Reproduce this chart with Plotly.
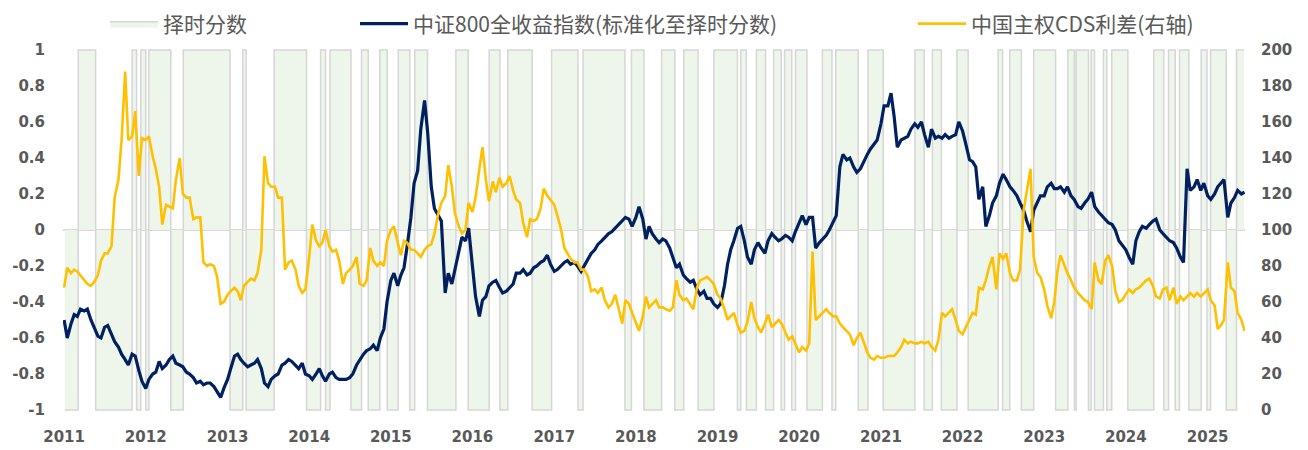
import pandas as pd
import plotly.graph_objects as go

# Timing score: +1 / -1 regimes, each date is the start of a regime (last one is the end of data)
SCORE_DATES = [
    "2011-01-04", "2011-03-05", "2011-05-22", "2011-11-01", "2011-11-21", "2011-12-10", "2012-01-01",
    "2012-01-15", "2012-04-22", "2012-06-17", "2013-01-12", "2013-03-10", "2013-03-25", "2013-07-28",
    "2013-12-20", "2014-02-21", "2014-03-15", "2014-04-04", "2014-07-07", "2014-08-23", "2014-09-22",
    "2014-11-13", "2014-12-16", "2015-02-03", "2015-03-27", "2015-04-18", "2015-06-14", "2015-10-19",
    "2015-12-13", "2016-03-16", "2016-05-03", "2016-06-07", "2016-09-24", "2016-12-20", "2017-04-17",
    "2017-05-10", "2017-11-13", "2017-12-12", "2018-02-06", "2018-04-26", "2018-06-24", "2018-08-03",
    "2018-10-06", "2018-12-16", "2019-03-31", "2019-04-15", "2019-05-10", "2019-06-24", "2019-08-04",
    "2019-09-09", "2019-10-13", "2019-10-28", "2019-11-29", "2019-12-16", "2020-02-05", "2020-04-14",
    "2020-05-27", "2020-06-13", "2020-09-21", "2020-11-04", "2021-01-11", "2021-06-02", "2021-07-13",
    "2021-08-19", "2021-09-28", "2021-12-07", "2022-01-26", "2022-06-09", "2022-06-29", "2022-07-31",
    "2022-09-21", "2022-11-15", "2023-02-21", "2023-04-17", "2023-05-16", "2023-05-24", "2023-07-18",
    "2023-07-30", "2023-08-14", "2023-09-23", "2023-10-08", "2023-10-30", "2024-01-10", "2024-05-05",
    "2024-06-19", "2024-07-10", "2024-08-09", "2024-08-28", "2024-10-09", "2024-12-03", "2024-12-29",
    "2025-01-14", "2025-03-25", "2025-05-10", "2025-06-13",
]
SCORE_VALUES = [
    -1, 1, -1, 1, -1, 1, -1, 1, -1, 1,
    -1, 1, -1, 1, -1, 1, -1, 1, -1, 1,
    -1, 1, -1, 1, -1, 1, -1, 1, -1, 1,
    -1, 1, -1, 1, -1, 1, -1, 1, -1, 1,
    -1, 1, -1, 1, -1, 1, -1, 1, -1, 1,
    -1, 1, -1, 1, -1, 1, -1, 1, -1, 1,
    -1, 1, -1, 1, -1, 1, -1, 1, -1, 1,
    -1, 1, -1, 1, -1, 1, -1, 1, -1, 1,
    -1, 1, -1, 1, -1, 1, -1, 1, -1, 1,
    -1, 1, -1, 1, 1,
]

# semi-monthly readings (1st and 15th), Jan 2011 - Jun 2025
SERIES_START = "2011-01-01"
SERIES_END = "2025-06-15"

CSI800 = [
    # 2011
    -0.50, -0.60, -0.52, -0.47, -0.48, -0.44, -0.45, -0.44, -0.50, -0.54, -0.59, -0.60,
    -0.54, -0.53, -0.58, -0.62, -0.65, -0.69, -0.72, -0.75, -0.69, -0.70, -0.78, -0.84,
    # 2012
    -0.88, -0.83, -0.80, -0.79, -0.73, -0.77, -0.75, -0.72, -0.70, -0.74, -0.75, -0.76,
    -0.79, -0.80, -0.82, -0.85, -0.84, -0.86, -0.85, -0.85, -0.87, -0.90, -0.93, -0.88,
    # 2013
    -0.83, -0.77, -0.70, -0.69, -0.72, -0.74, -0.76, -0.75, -0.74, -0.72, -0.77, -0.85,
    -0.87, -0.83, -0.81, -0.80, -0.75, -0.74, -0.72, -0.73, -0.75, -0.77, -0.74, -0.80,
    # 2014
    -0.81, -0.83, -0.80, -0.77, -0.81, -0.84, -0.80, -0.79, -0.82, -0.83, -0.83, -0.83,
    -0.82, -0.80, -0.75, -0.72, -0.69, -0.67, -0.66, -0.64, -0.67, -0.60, -0.55, -0.40,
    # 2015
    -0.28, -0.24, -0.31, -0.25, -0.21, -0.09, 0.07, 0.26, 0.33, 0.56, 0.72, 0.54,
    0.24, 0.12, 0.08, 0.05, -0.35, -0.24, -0.30, -0.22, -0.12, -0.04, -0.06, 0.01,
    # 2016
    -0.20, -0.37, -0.48, -0.39, -0.37, -0.31, -0.29, -0.28, -0.32, -0.35, -0.34, -0.32,
    -0.30, -0.24, -0.24, -0.22, -0.25, -0.24, -0.21, -0.20, -0.18, -0.17, -0.14, -0.19,
    # 2017
    -0.23, -0.22, -0.20, -0.18, -0.17, -0.19, -0.18, -0.20, -0.23, -0.20, -0.16, -0.13,
    -0.11, -0.08, -0.06, -0.04, -0.02, -0.01, 0.01, 0.03, 0.05, 0.07, 0.06, 0.02,
    # 2018
    0.07, 0.13, 0.06, -0.05, 0.02, -0.02, -0.05, -0.07, -0.05, -0.06, -0.10, -0.15,
    -0.21, -0.19, -0.25, -0.27, -0.29, -0.28, -0.33, -0.36, -0.34, -0.38, -0.38, -0.41,
    # 2019
    -0.43, -0.41, -0.31, -0.19, -0.11, -0.06, 0.01, 0.02, -0.06, -0.15, -0.19, -0.11,
    -0.07, -0.10, -0.13, -0.06, -0.02, -0.04, -0.06, -0.05, -0.03, -0.04, -0.06, -0.01,
    # 2020
    0.04, 0.08, 0.03, 0.07, 0.07, -0.10, -0.07, -0.05, -0.03, 0.00, 0.04, 0.08,
    0.35, 0.42, 0.39, 0.40, 0.35, 0.32, 0.34, 0.38, 0.42, 0.45, 0.48, 0.50,
    # 2021
    0.59, 0.69, 0.69, 0.76, 0.63, 0.46, 0.50, 0.51, 0.52, 0.56, 0.59, 0.57,
    0.60, 0.53, 0.46, 0.56, 0.51, 0.52, 0.51, 0.53, 0.51, 0.52, 0.53, 0.60,
    # 2022
    0.55, 0.48, 0.39, 0.38, 0.35, 0.17, 0.24, 0.02, 0.08, 0.15, 0.19, 0.26,
    0.31, 0.28, 0.24, 0.22, 0.19, 0.15, 0.11, 0.05, -0.01, 0.11, 0.15, 0.19,
    # 2023
    0.19, 0.24, 0.26, 0.23, 0.23, 0.24, 0.21, 0.24, 0.19, 0.17, 0.13, 0.12,
    0.15, 0.17, 0.21, 0.13, 0.10, 0.08, 0.06, 0.04, 0.03, 0.00, -0.06, -0.08,
    # 2024
    -0.11, -0.15, -0.19, -0.06, -0.01, 0.02, 0.01, 0.03, 0.05, 0.06, 0.00, -0.02,
    -0.04, -0.06, -0.07, -0.10, -0.15, -0.18, 0.34, 0.22, 0.24, 0.28, 0.22, 0.26,
    # 2025
    0.19, 0.17, 0.20, 0.24, 0.26, 0.28, 0.07, 0.15, 0.18, 0.22, 0.20, 0.21,
]

CDS = [
    # 2011
    68, 79, 76, 78, 77, 75, 72, 70, 69, 71, 75, 83,
    87, 87, 91, 118, 128, 150, 188, 150, 152, 166, 130, 151,
    # 2012
    150, 152, 141, 134, 124, 103, 114, 113, 112, 128, 140, 120,
    118, 118, 106, 107, 107, 82, 80, 81, 80, 74, 59, 60,
    # 2013
    64, 66, 68, 66, 61, 69, 71, 73, 72, 76, 89, 141,
    126, 124, 124, 118, 118, 78, 82, 83, 78, 69, 65, 67,
    # 2014
    85, 103, 94, 91, 93, 100, 91, 88, 89, 83, 70, 76,
    78, 80, 85, 70, 69, 72, 90, 83, 80, 82, 80, 94,
    # 2015
    100, 102, 93, 86, 94, 93, 89, 89, 87, 85, 89, 91,
    92, 98, 109, 115, 119, 136, 124, 109, 102, 98, 100, 115,
    # 2016
    110, 118, 134, 146, 128, 116, 127, 121, 129, 124, 126, 130,
    122, 117, 115, 104, 96, 106, 105, 106, 112, 123, 119, 117,
    # 2017
    114, 108, 100, 90, 87, 84, 82, 82, 78, 78, 74, 66,
    67, 65, 68, 61, 57, 59, 64, 57, 48, 61, 59, 54,
    # 2018
    48, 44, 52, 63, 57, 59, 61, 57, 57, 56, 55, 57,
    72, 64, 61, 62, 59, 56, 68, 72, 73, 74, 72, 70,
    # 2019
    64, 62, 56, 50, 52, 54, 47, 43, 44, 49, 60, 51,
    46, 43, 48, 53, 46, 48, 50, 48, 43, 39, 41, 37,
    # 2020
    32, 35, 33, 37, 88, 50, 52, 54, 56, 54, 52, 52,
    48, 46, 44, 42, 36, 40, 43, 38, 32, 29, 28, 30,
    # 2021
    29, 29, 30, 30, 30, 32, 35, 39, 37, 38, 37, 37,
    38, 37, 38, 35, 33, 39, 54, 52, 54, 56, 50, 44,
    # 2022
    42, 46, 51, 54, 53, 68, 67, 72, 80, 85, 67, 87,
    84, 87, 76, 72, 72, 78, 111, 122, 134, 85, 76, 74,
    # 2023
    67, 58, 51, 60, 77, 86, 80, 76, 72, 68, 65, 63,
    61, 60, 56, 82, 72, 70, 83, 86, 80, 66, 60, 61,
    # 2024
    64, 67, 65, 67, 68, 70, 72, 73, 69, 63, 62, 67,
    68, 61, 68, 59, 63, 61, 63, 65, 63, 65, 63, 65,
    # 2025
    67, 61, 58, 45, 47, 50, 82, 68, 66, 54, 50, 44,
]

LEFT_TICKS = [-1, -0.8, -0.6, -0.4, -0.2, 0, 0.2, 0.4, 0.6, 0.8, 1]
LEFT_TICK_TEXT = ["-1", "-0.8", "-0.6", "-0.4", "-0.2", "0", "0.2", "0.4", "0.6", "0.8", "1"]
YEARS = list(range(2011, 2026))

NAMES = ["择时分数", "中证800全收益指数(标准化至择时分数)", "中国主权CDS利差(右轴)"]
COLORS = {"score_fill": "#EEF6EB", "score_line": "#D6D6D6", "csi": "#002060", "cds": "#FFC000"}

dates = pd.date_range(SERIES_START, SERIES_END, freq="SMS")

# the page body has an 8px margin, so the figure is drawn 8px smaller and offset
W, H = 1300, 442

tick_font = dict(family="DejaVu Sans", size=15, color="#595959", weight="bold")
legend_font = dict(family="Noto Sans CJK SC", size=21, color="#595959")

fig = go.Figure()
fig.add_trace(go.Scatter(
    x=pd.to_datetime(SCORE_DATES), y=SCORE_VALUES, name=NAMES[0], mode="lines",
    line=dict(shape="hv", color=COLORS["score_line"], width=1.5),
    fill="tozeroy", fillcolor=COLORS["score_fill"], legend="legend", showlegend=True,
))
fig.add_trace(go.Scatter(
    x=dates, y=CSI800, name=NAMES[1], mode="lines",
    line=dict(color=COLORS["csi"], width=3.2), legend="legend2", showlegend=True,
))
fig.add_trace(go.Scatter(
    x=dates, y=CDS, name=NAMES[2], mode="lines", yaxis="y2",
    line=dict(color=COLORS["cds"], width=2.6), legend="legend3", showlegend=True,
))

leg = dict(orientation="h", yref="container", y=1 - 16 / H, yanchor="middle",
           xref="container", xanchor="left", font=legend_font,
           bgcolor="rgba(0,0,0,0)", itemwidth=48)

fig.update_layout(
    width=W, height=H, showlegend=True,
    margin=dict(l=55, r=63, t=41, b=39, autoexpand=False),
    paper_bgcolor="white", plot_bgcolor="white",
    legend=dict(leg, x=97 / W),
    legend2=dict(leg, x=347 / W),
    legend3=dict(leg, x=905 / W),
    xaxis=dict(
        type="date", range=["2010-12-27", "2025-06-17"],
        tickvals=[pd.Timestamp(f"{y}-01-01") for y in YEARS], tickformat="%Y",
        showgrid=False, showline=False, zeroline=False,
        ticks="outside", ticklen=12, tickcolor="rgba(0,0,0,0)", tickfont=tick_font,
    ),
    yaxis=dict(
        range=[-1.0055, 1.0055], tickvals=LEFT_TICKS, ticktext=LEFT_TICK_TEXT,
        showgrid=False, showline=False,
        zeroline=True, zerolinecolor="#D9D9D9", zerolinewidth=1.5,
        ticks="outside", ticklen=14, tickcolor="rgba(0,0,0,0)", tickfont=tick_font,
    ),
    yaxis2=dict(
        range=[-0.55, 200.55], dtick=20, overlaying="y", side="right",
        showgrid=False, showline=False, zeroline=False,
        ticks="outside", ticklen=12, tickcolor="rgba(0,0,0,0)", tickfont=tick_font,
    ),
)

fig.write_html("out.html")
